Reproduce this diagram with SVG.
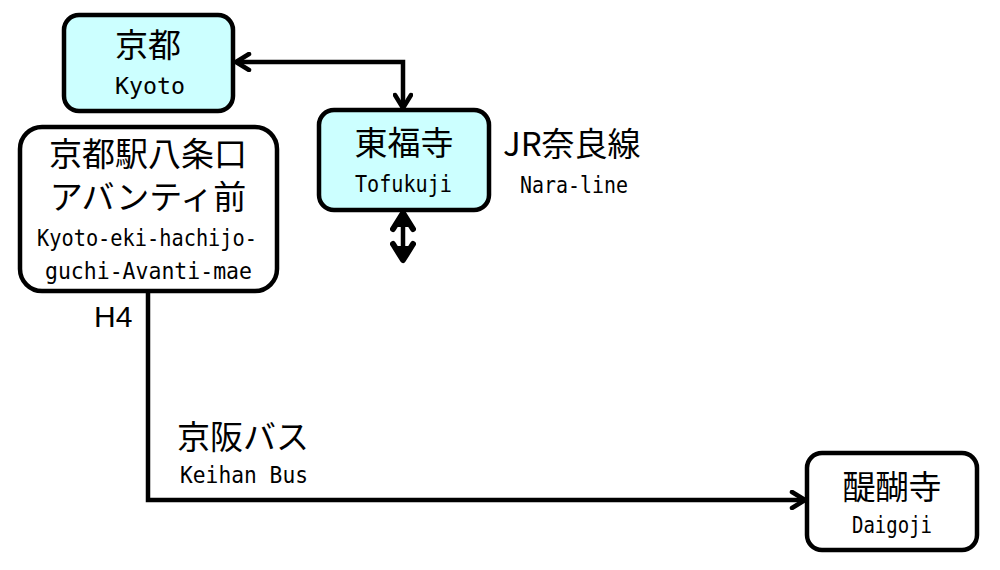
<svg xmlns="http://www.w3.org/2000/svg" width="1000" height="570" viewBox="0 0 1000 570">
<defs>
<style>
.box{stroke:#000;stroke-width:4.5}
.st{fill:#ccffff}
.wt{fill:#fff}
.jp{font-family:"Noto Sans CJK JP","Noto Sans CJK SC",sans-serif;font-size:33px;fill:#000}
.en{font-family:"DejaVu Sans Mono","Liberation Mono",monospace;font-size:23px;fill:#000}
.ln{fill:none;stroke:#000;stroke-width:4.5}
</style>
<marker id="open" viewBox="0 0 20 20" refX="17" refY="10" markerWidth="20" markerHeight="20" markerUnits="userSpaceOnUse" orient="auto-start-reverse">
<path d="M4 2 L17 10 L4 18" fill="none" stroke="#000" stroke-width="4.5" stroke-linecap="round" stroke-linejoin="round"/>
</marker>
<marker id="solid" viewBox="0 0 24 26" refX="21" refY="13" markerWidth="24" markerHeight="26" markerUnits="userSpaceOnUse" orient="auto-start-reverse">
<path d="M4 3 L20 13 L4 23" fill="none" stroke="#000" stroke-width="6" stroke-linecap="round" stroke-linejoin="round"/>
<path d="M6 6 L20 13 L6 20 Z" fill="#000"/>
</marker>
</defs>
<rect width="1000" height="570" fill="#fff"/>
<g id="connectors">
<path class="ln" d="M236 62 H403 V108" marker-start="url(#open)" marker-end="url(#open)"/>
<path class="ln" d="M403 212 V261" stroke-width="5" marker-start="url(#solid)" marker-end="url(#solid)"/>
<path class="ln" d="M148 291 V500 H805" marker-end="url(#open)"/>
</g>
<g id="kyoto">
<rect class="box st" x="64" y="15" width="169" height="96" rx="15"/>
<text class="jp" x="148" y="57" text-anchor="middle">京都</text>
<text class="en" x="115" y="94" textLength="70" lengthAdjust="spacingAndGlyphs">Kyoto</text>
</g>
<g id="tofukuji">
<rect class="box st" x="319" y="110" width="170" height="100" rx="15"/>
<text class="jp" x="404" y="155" text-anchor="middle">東福寺</text>
<text class="en" x="355" y="192" textLength="97" lengthAdjust="spacingAndGlyphs">Tofukuji</text>
</g>
<g id="nara-line">
<text class="jp" x="503" y="156" font-size="34">JR奈良線</text>
<text class="en" x="520" y="193" textLength="108" lengthAdjust="spacingAndGlyphs">Nara-line</text>
</g>
<g id="hachijo">
<rect class="box wt" x="20" y="127" width="257" height="164" rx="22"/>
<text class="jp" x="148" y="166" text-anchor="middle">京都駅八条口</text>
<text class="jp" x="148" y="209" text-anchor="middle">アバンティ前</text>
<text class="en" x="37" y="246" textLength="220" lengthAdjust="spacingAndGlyphs">Kyoto-eki-hachijo-</text>
<text class="en" x="45" y="279" textLength="207" lengthAdjust="spacingAndGlyphs">guchi-Avanti-mae</text>
</g>
<g id="h4">
<text x="94" y="327" font-family="Liberation Sans,sans-serif" font-size="30" fill="#000">H4</text>
</g>
<g id="keihan">
<text class="jp" x="177" y="449">京阪バス</text>
<text class="en" x="180" y="483" textLength="128" lengthAdjust="spacingAndGlyphs">Keihan Bus</text>
</g>
<g id="daigoji">
<rect class="box wt" x="807" y="453" width="170" height="97" rx="15"/>
<text class="jp" x="892" y="499" text-anchor="middle" font-size="30">醍醐寺</text>
<text class="en" x="852" y="533" textLength="80" lengthAdjust="spacingAndGlyphs">Daigoji</text>
</g>
</svg>
